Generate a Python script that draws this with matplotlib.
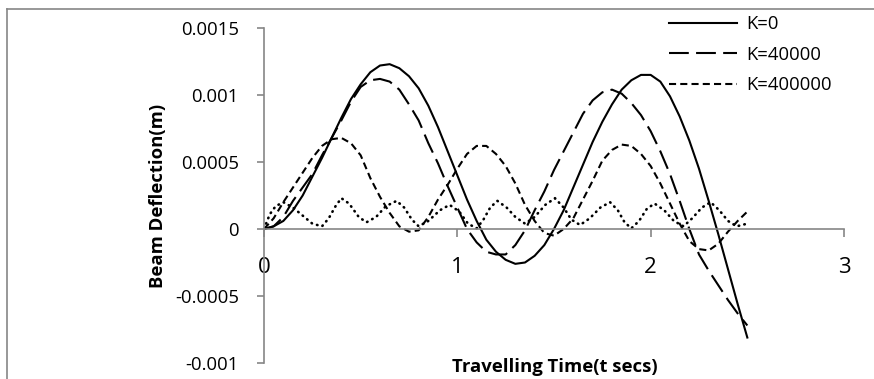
import matplotlib
matplotlib.use("Agg")
import matplotlib.pyplot as plt
from matplotlib.lines import Line2D
import numpy as np

plt.rcParams['font.family'] = ['Open Sans', 'DejaVu Sans']

# travelling time (s) shared by the three legend series
t = np.array([0.00, 0.05, 0.10, 0.15, 0.20, 0.25, 0.30, 0.35, 0.40, 0.45,
              0.50, 0.55, 0.60, 0.65, 0.70, 0.75, 0.80, 0.85, 0.90, 0.95,
              1.00, 1.05, 1.10, 1.15, 1.20, 1.25, 1.30, 1.35, 1.40, 1.45,
              1.50, 1.55, 1.60, 1.65, 1.70, 1.75, 1.80, 1.85, 1.90, 1.95,
              2.00, 2.05, 2.10, 2.15, 2.20, 2.25, 2.30, 2.35, 2.40, 2.45,
              2.50])

k0 = np.array([0, 0.00002, 0.00006, 0.00014, 0.00025, 0.00039, 0.00053, 0.00068, 0.00083, 0.00097,
               0.00108, 0.00117, 0.00122, 0.00123, 0.00120, 0.00114, 0.00105, 0.00092, 0.00076, 0.00058,
               0.00040, 0.00022, 0.00006, -0.00008, -0.00017, -0.00023, -0.00026, -0.00025, -0.00020, -0.00012,
               0.00000, 0.00014, 0.00031, 0.00048, 0.00065, 0.00080, 0.00093, 0.00104, 0.00111, 0.00115,
               0.00115, 0.00110, 0.00099, 0.00084, 0.00066, 0.00045, 0.00021, -0.00004, -0.00030, -0.00056,
               -0.00081])

k40000 = np.array([0, 0.00002, 0.00009, 0.00021, 0.00031, 0.00041, 0.00055, 0.00068, 0.00081, 0.00095,
                   0.00106, 0.00111, 0.00112, 0.00110, 0.00104, 0.00093, 0.00081, 0.00064, 0.00049, 0.00032,
                   0.00016, 0.00000, -0.00010, -0.00017, -0.00019, -0.00019, -0.00012, -0.00001, 0.00014, 0.00028,
                   0.00044, 0.00058, 0.00072, 0.00086, 0.00096, 0.00102, 0.00104, 0.00101, 0.00094, 0.00085,
                   0.00073, 0.00058, 0.00041, 0.00021, 0.00000, -0.00019, -0.00031, -0.00042, -0.00053, -0.00063,
                   -0.00072])

k400000 = np.array([0, 0.00008, 0.00020, 0.00031, 0.00042, 0.00053, 0.00062, 0.00067, 0.00068, 0.00064,
                    0.00055, 0.00038, 0.00024, 0.00012, 0.00002, -0.00002, -0.00001, 0.00009, 0.00022, 0.00033,
                    0.00045, 0.00056, 0.00062, 0.00062, 0.00056, 0.00047, 0.00034, 0.00018, 0.00006, -0.00003,
                    -0.00005, 0.00000, 0.00008, 0.00022, 0.00036, 0.00051, 0.00059, 0.00063, 0.00062, 0.00056,
                    0.00047, 0.00034, 0.00019, 0.00004, -0.00009, -0.00015, -0.00016, -0.00011, -0.00002, 0.00006,
                    0.00013])

# fourth (unlabelled) dotted series
t_dot = np.array([0, 0.03, 0.06, 0.10, 0.15, 0.20, 0.25, 0.30, 0.335, 0.37,
                  0.40, 0.44, 0.49, 0.53, 0.58, 0.63, 0.686, 0.725, 0.765, 0.80,
                  0.85, 0.91, 0.96, 1.01, 1.055, 1.10, 1.135, 1.17, 1.207, 1.255,
                  1.30, 1.35, 1.40, 1.455, 1.505, 1.55, 1.59, 1.635, 1.685, 1.74,
                  1.79, 1.83, 1.865, 1.90, 1.94, 1.98, 2.02, 2.07, 2.12, 2.17,
                  2.215, 2.265, 2.31, 2.355, 2.40, 2.445, 2.50])
y_dot = np.array([0, 0.00011, 0.00017, 0.00020, 0.00016, 0.00010, 0.00004, 0.00002, 0.00008, 0.00017,
                  0.00023, 0.00019, 0.00009, 0.00005, 0.00009, 0.00017, 0.00021, 0.00016, 0.00007, 0.00002,
                  0.00006, 0.00014, 0.00018, 0.00013, 0.00004, 0.000005, 0.00007, 0.00016, 0.00021, 0.00016,
                  0.00009, 0.00004, 0.00009, 0.00018, 0.00023, 0.00016, 0.00007, 0.00003, 0.00008, 0.00016,
                  0.00020, 0.00014, 0.00005, 0.000005, 0.00006, 0.00015, 0.00019, 0.00014, 0.00006, 0.00002,
                  0.00008, 0.00016, 0.00020, 0.00014, 0.00006, 0.00002, 0.00004])

labels = ['K=0', 'K=40000', 'K=400000']
xticks = [0, 1, 2, 3]
yticks = [-0.001, -0.0005, 0, 0.0005, 0.001, 0.0015]
ytick_labels = ['-0.001', '-0.0005', '0', '0.0005', '0.001', '0.0015']

W, H = 874, 379
fig = plt.figure(figsize=(W / 100, H / 100), dpi=100)
ax = fig.add_axes([264 / W, 16 / H, 580 / W, 335 / H])

lw = 1.5
ax.plot(t, k0, color='black', lw=lw, label=labels[0])
ax.plot(t, k40000, color='black', lw=lw, linestyle=(0, (9.5, 3.5)), label=labels[1])
ax.plot(t, k400000, color='black', lw=lw, linestyle=(0, (3.4, 2.0)), label=labels[2])
ax.plot(t_dot, y_dot, color='black', lw=1.9, linestyle=(0, (0.2, 2.0)),
        dash_capstyle='round', label='_nolegend_')

ax.set_xlim(0, 3)
ax.set_ylim(-0.001, 0.0015)
ax.set_xticks(xticks)
ax.set_xticklabels([str(v) for v in xticks])
ax.set_yticks(yticks)
ax.set_yticklabels(ytick_labels)

grey = '#868686'
for side in ['top', 'right']:
    ax.spines[side].set_visible(False)
ax.spines['bottom'].set_position(('data', 0))
ax.spines['bottom'].set_color(grey)
ax.spines['left'].set_color(grey)
ax.spines['bottom'].set_linewidth(1.2)
ax.spines['left'].set_linewidth(1.2)
ax.tick_params(axis='x', direction='out', length=6, width=1.2, color=grey, pad=14, labelsize=16)
ax.tick_params(axis='y', direction='out', length=5, width=1.2, color=grey, pad=13, labelsize=13.3)

fig.text(158 / W, 1 - 196 / H, 'Beam Deflection(m)', rotation=90, fontsize=13.3,
         fontweight='bold', ha='center', va='center')
fig.text(555 / W, 1 - 367 / H, 'Travelling Time(t secs)', fontsize=13.3,
         fontweight='bold', ha='center', va='center')

ax.legend(loc='upper left', bbox_to_anchor=(669 / W, 1 - 15 / H), bbox_transform=fig.transFigure,
          frameon=False, fontsize=13.3, handlelength=3.7, handletextpad=0.5,
          labelspacing=0.68, borderpad=0, borderaxespad=0)

# chart area border
fig.add_artist(Line2D([7 / W, 1], [1 - 9 / H, 1 - 9 / H], transform=fig.transFigure, color=grey, lw=1.2))
fig.add_artist(Line2D([7 / W, 7 / W], [0, 1 - 9 / H], transform=fig.transFigure, color=grey, lw=1.2))

fig.savefig('out.png', dpi=100)
